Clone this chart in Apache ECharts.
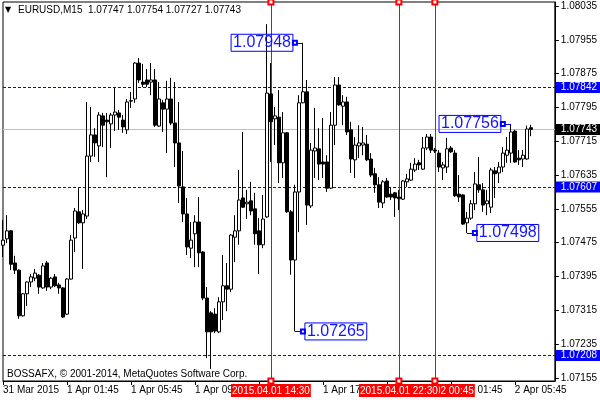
<!DOCTYPE html>
<html><head><meta charset="utf-8">
<script src="https://cdn.jsdelivr.net/npm/echarts@6/dist/echarts.min.js"></script>
<style>html,body{margin:0;padding:0;background:#fff}#c{width:600px;height:400px}</style>
</head><body><div id="c"></div>
<script>
// ---- data (M15 bars, EURUSD) ----
const opens = [1.07469,1.07484,1.07503,1.07427,1.07410,1.07302,1.07354,1.07382,1.07391,1.07398,
1.07368,1.07427,1.07370,1.07394,1.07375,1.07368,1.07306,1.07389,1.07486,1.07548,
1.07522,1.07538,1.07680,1.07730,1.07704,1.07775,1.07765,1.07756,1.07777,1.07782,
1.07765,1.07742,1.07810,1.07815,1.07900,1.07855,1.07860,1.07855,1.07860,1.07751,
1.07806,1.07791,1.07815,1.07758,1.07711,1.07607,1.07543,1.07462,1.07496,1.07524,
1.07453,1.07344,1.07309,1.07306,1.07264,1.07335,1.07373,1.07365,1.07488,1.07503,
1.07581,1.07567,1.07574,1.07555,1.07503,1.07470,1.07536,1.07827,1.07768,1.07772,
1.07664,1.07735,1.07548,1.07434,1.07595,1.07806,1.07832,1.07562,1.07692,1.07697,
1.07666,1.07666,1.07604,1.07753,1.07848,1.07798,1.07808,1.07742,1.07671,1.07704,
1.07706,1.07708,1.07673,1.07638,1.07612,1.07569,1.07621,1.07590,1.07593,1.07583,
1.07578,1.07619,1.07623,1.07647,1.07664,1.07649,1.07699,1.07725,1.07694,1.07687,
1.07652,1.07654,1.07699,1.07687,1.07590,1.07588,1.07522,1.07533,1.07567,1.07612,
1.07600,1.07567,1.07559,1.07645,1.07640,1.07654,1.07682,1.07687,1.07739,1.07675,
1.07673,1.07673,1.07747];
const closes = [1.07481,1.07503,1.07424,1.07410,1.07302,1.07354,1.07382,1.07394,1.07403,1.07370,
1.07420,1.07370,1.07391,1.07373,1.07368,1.07299,1.07389,1.07481,1.07550,1.07522,
1.07543,1.07680,1.07730,1.07711,1.07777,1.07753,1.07761,1.07777,1.07784,1.07772,
1.07749,1.07808,1.07811,1.07900,1.07860,1.07850,1.07850,1.07860,1.07753,1.07815,
1.07791,1.07815,1.07758,1.07711,1.07609,1.07543,1.07465,1.07481,1.07524,1.07451,
1.07344,1.07264,1.07264,1.07266,1.07335,1.07373,1.07365,1.07493,1.07503,1.07576,
1.07559,1.07571,1.07550,1.07496,1.07470,1.07531,1.07829,1.07761,1.07775,1.07664,
1.07735,1.07548,1.07434,1.07595,1.07806,1.07832,1.07564,1.07694,1.07699,1.07661,
1.07661,1.07604,1.07753,1.07848,1.07801,1.07808,1.07737,1.07673,1.07706,1.07711,
1.07711,1.07671,1.07635,1.07612,1.07571,1.07619,1.07583,1.07583,1.07581,1.07579,
1.07621,1.07626,1.07649,1.07661,1.07659,1.07699,1.07725,1.07694,1.07692,1.07654,
1.07659,1.07697,1.07690,1.07586,1.07583,1.07519,1.07533,1.07567,1.07614,1.07600,
1.07564,1.07574,1.07647,1.07638,1.07654,1.07687,1.07694,1.07737,1.07666,1.07671,
1.07682,1.07744,1.07743];
const lows = [1.07441,1.07474,1.07410,1.07401,1.07295,1.07300,1.07325,1.07370,1.07384,1.07354,
1.07366,1.07361,1.07365,1.07370,1.07354,1.07297,1.07304,1.07387,1.07453,1.07519,
1.07413,1.07531,1.07666,1.07678,1.07666,1.07701,1.07630,1.07699,1.07739,1.07742,
1.07735,1.07732,1.07794,1.07806,1.07853,1.07843,1.07843,1.07824,1.07749,1.07749,
1.07737,1.07687,1.07753,1.07654,1.07569,1.07524,1.07446,1.07439,1.07417,1.07417,
1.07339,1.07202,1.07176,1.07261,1.07261,1.07292,1.07313,1.07358,1.07429,1.07470,
1.07557,1.07531,1.07540,1.07470,1.07401,1.07462,1.07534,1.07666,1.07706,1.07616,
1.07628,1.07546,1.07399,1.07265,1.07500,1.07805,1.07517,1.07557,1.07628,1.07623,
1.07628,1.07595,1.07602,1.07706,1.07799,1.07753,1.07730,1.07640,1.07628,1.07675,
1.07682,1.07668,1.07630,1.07593,1.07557,1.07557,1.07581,1.07576,1.07536,1.07552,
1.07576,1.07607,1.07621,1.07642,1.07647,1.07647,1.07694,1.07687,1.07687,1.07642,
1.07623,1.07640,1.07687,1.07583,1.07571,1.07517,1.07498,1.07529,1.07552,1.07593,
1.07548,1.07540,1.07545,1.07581,1.07616,1.07642,1.07664,1.07664,1.07664,1.07659,
1.07654,1.07671,1.07727];
const highs = [1.07529,1.07540,1.07505,1.07444,1.07412,1.07356,1.07383,1.07401,1.07413,1.07401,
1.07427,1.07432,1.07394,1.07401,1.07380,1.07370,1.07391,1.07493,1.07557,1.07604,
1.07552,1.07808,1.07796,1.07746,1.07784,1.07782,1.07782,1.07782,1.07841,1.07789,
1.07777,1.07815,1.07832,1.07902,1.07912,1.07898,1.07886,1.07900,1.07886,1.07855,
1.07813,1.07858,1.07865,1.07855,1.07808,1.07692,1.07581,1.07524,1.07540,1.07583,
1.07455,1.07370,1.07313,1.07320,1.07346,1.07446,1.07427,1.07495,1.07540,1.07647,
1.07737,1.07600,1.07619,1.07593,1.07533,1.07588,1.07992,1.07900,1.07796,1.07836,
1.07784,1.07737,1.07552,1.07612,1.07824,1.07948,1.07860,1.07711,1.07794,1.07746,
1.07770,1.07682,1.07784,1.07867,1.07867,1.07824,1.07820,1.07761,1.07725,1.07753,
1.07749,1.07730,1.07687,1.07652,1.07630,1.07623,1.07628,1.07607,1.07595,1.07600,
1.07623,1.07638,1.07664,1.07675,1.07671,1.07725,1.07732,1.07732,1.07699,1.07694,
1.07666,1.07723,1.07704,1.07694,1.07635,1.07590,1.07548,1.07576,1.07642,1.07678,
1.07616,1.07600,1.07652,1.07654,1.07666,1.07701,1.07725,1.07756,1.07742,1.07694,
1.07694,1.07752,1.07754];

const priceTicks = [1.07155,1.07235,1.07315,1.07395,1.07475,1.07555,1.07635,1.07715,1.07795,1.07875,1.07955,1.08035];
const timeTickLabels = ['31 Mar 2015','1 Apr 01:45','1 Apr 05:45','1 Apr 09:45','1 Apr 13:45','1 Apr 17:45','1 Apr 21:45','2 Apr 01:45','2 Apr 05:45'];
const levelLines = [1.07842, 1.07607, 1.07208];
const currentPrice = 1.07743;
const verticalTimes = ['2015.04.01 14:30', '2015.04.02 00:45', '2015.04.01 22:30'];
const calloutBars = [75, 73, 127, 116];
const calloutPrices = [1.07948, 1.07265, 1.07756, 1.07498];
const calloutSide = [-2, 2, -2, 2];

// ---- categories: 15-minute slots from 31 Mar 21:45 ----
const SLOTS = 139, TICK_EVERY = 16;
const dates = ['2015.03.31', '2015.04.01', '2015.04.02'];
const categories = [];
for (let i = 0; i < SLOTS; i++) {
  let m = 21 * 60 + 45 + 15 * i;
  const d = Math.floor(m / 1440); m %= 1440;
  categories.push(dates[d] + ' ' + String(Math.floor(m / 60)).padStart(2, '0') + ':' + String(m % 60).padStart(2, '0'));
}
const ohlc = opens.map((o, i) => [o, closes[i], lows[i], highs[i]]);

const FONT = 'Liberation Sans, Arial, sans-serif';
const chart = echarts.init(document.getElementById('c'), null, { renderer: 'canvas' });

const sideLabel = (bg) => ({ show: true, position: 'end', distance: 1, color: '#fff', backgroundColor: bg, padding: [1, 4, 0, 5], fontSize: 10, fontFamily: FONT });

const redLines = verticalTimes.map(t => ({ xAxis: t, label: { formatter: t } }));
const blueLines = levelLines.map(v => ({ yAxis: v, label: { formatter: v.toFixed(5) } }));
const greyLines = [{ yAxis: currentPrice, label: { formatter: currentPrice.toFixed(5) } }];

const callouts = calloutBars.map((b, k) => [
  { coord: [categories[b], calloutPrices[k]], label: { formatter: calloutPrices[k].toFixed(5) } },
  { coord: [categories[b + calloutSide[k]], calloutPrices[k]] }
]);

// invisible helper series that carry the mark lines (drawn with the same scales)
const holder = (z, markLine) => ({
  type: 'candlestick', data: ohlc, z: z, silent: true, barWidth: 3,
  itemStyle: { color: 'rgba(0,0,0,0)', color0: 'rgba(0,0,0,0)', borderColor: 'rgba(0,0,0,0)', borderColor0: 'rgba(0,0,0,0)', borderWidth: 0 },
  emphasis: { disabled: true },
  markLine: Object.assign({ silent: true, animation: false, precision: 5, z: z }, markLine)
});

chart.setOption({
  animation: false,
  backgroundColor: '#fff',
  textStyle: { fontFamily: FONT },
  title: [
    { text: '▼', left: 5, top: 6, padding: 0, textStyle: { fontSize: 8, color: '#000', fontWeight: 'normal', fontFamily: 'DejaVu Sans' } },
    { text: 'EURUSD,M15  1.07747 1.07754 1.07727 1.07743', left: 18, top: 5, padding: 0, textStyle: { fontSize: 10, color: '#000', fontWeight: 'normal', fontFamily: FONT } },
    { text: 'BOSSAFX, © 2001-2014, MetaQuotes Software Corp.', left: 7, top: 369, padding: 0, textStyle: { fontSize: 10, color: '#000', fontWeight: 'normal', fontFamily: FONT } }
  ],
  grid: { left: 3, right: 43, top: 2, bottom: 19, show: true, borderColor: '#000', borderWidth: 1, backgroundColor: 'transparent' },
  xAxis: {
    type: 'category', data: categories, boundaryGap: false,
    axisLine: { show: true, lineStyle: { color: '#000', width: 1 } },
    axisTick: { show: true, length: 4, interval: i => i % TICK_EVERY === 0, lineStyle: { color: '#000' } },
    axisLabel: { show: true, interval: i => i % TICK_EVERY === 0, formatter: (v, i) => timeTickLabels[i / TICK_EVERY] || '', align: 'left', margin: 4, fontSize: 10, color: '#000', fontFamily: FONT },
    splitLine: { show: false }
  },
  yAxis: {
    type: 'value', position: 'right', scale: true,
    min: 1.0714775, max: 1.0804446,
    axisLine: { show: true, lineStyle: { color: '#000', width: 1 } },
    axisTick: { show: true, length: 4, customValues: priceTicks, lineStyle: { color: '#000' } },
    axisLabel: { show: true, customValues: priceTicks, formatter: v => v.toFixed(5), margin: 6, fontSize: 10, color: '#000', fontFamily: FONT },
    splitLine: { show: false }
  },
  series: [
    holder(1, { symbol: 'none', lineStyle: { color: '#c0c0c0', width: 1, type: 'solid' }, itemStyle: { color: '#c0c0c0' },
      label: sideLabel('#000000'), data: greyLines }),
    holder(1, { symbol: 'none', lineStyle: { color: '#0000ff', width: 1, type: [3, 2] }, itemStyle: { color: '#0000ff' },
      label: sideLabel('#0000ff'), data: blueLines }),
    holder(1, { symbol: ['emptyRect', 'emptyRect'], symbolSize: 5, lineStyle: { color: '#ff0000', width: 1, type: 'solid' }, itemStyle: { color: '#ff0000' },
      label: { show: true, position: 'start', distance: 3, color: '#fff', backgroundColor: '#ff0000', padding: [2, 1, 1, 1], fontSize: 10, fontFamily: FONT },
      data: redLines }),
    { type: 'candlestick', data: ohlc, z: 2, barWidth: 3, silent: true,
      itemStyle: { color: '#ffffff', color0: '#000000', borderColor: '#000000', borderColor0: '#000000', borderWidth: 1 },
      emphasis: { disabled: true } },
    { type: 'line', data: [], z: 3, silent: true,
      markLine: { silent: true, z: 5, symbol: ['none', 'emptyRect'], symbolSize: 4, animation: false,
        lineStyle: { color: '#0000ff', width: 1, type: 'solid' }, itemStyle: { color: '#0000ff' },
        label: { show: true, position: 'end', distance: 2, color: '#1515ff', fontSize: 16, fontFamily: FONT, borderColor: '#0000ff', borderWidth: 1, padding: [1, 2, 0, 2] },
        data: callouts } }
  ]
});
</script></body></html>
